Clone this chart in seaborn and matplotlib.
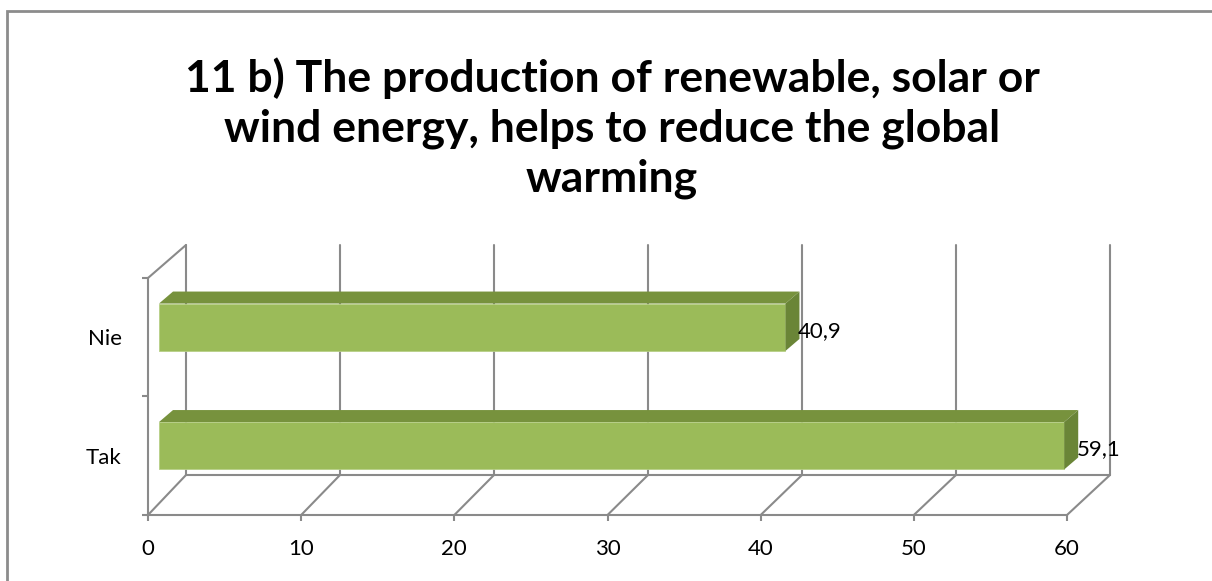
import matplotlib
matplotlib.use('Agg')
import matplotlib.pyplot as plt
from matplotlib.patches import Polygon, Rectangle, ConnectionPatch
import seaborn as sns
import pandas as pd

# Data
categories = ['Nie', 'Tak']
values = [40.9, 59.1]
x_ticks = [0, 10, 20, 30, 40, 50, 60]
title = '11 b) The production of renewable, solar or\nwind energy, helps to reduce the global\nwarming'

df = pd.DataFrame({'answer': categories, 'share': values})

sns.set_style('white')
plt.rcParams['font.family'] = ['Lato', 'DejaVu Sans']
plt.rcParams['text.color'] = 'black'
plt.rcParams['xtick.labelcolor'] = 'black'
plt.rcParams['ytick.labelcolor'] = 'black'

W, H = 1212, 581
fig = plt.figure(figsize=(W / 100, H / 100), dpi=100)
grey = '#8a8a8a'
lw = 1.5


def box(left, top, right, bottom):
    return [left / W, 1 - bottom / H, (right - left) / W, (bottom - top) / H]


# back wall, front plane, bar plane
ax_back = fig.add_axes(box(186, 245, 1110, 475))
ax = fig.add_axes(box(148, 278, 1067, 515))
ax_bar = fig.add_axes(box(159, 268, 1078, 505))

# back wall gridlines
ax_back.set_xlim(0, 60)
ax_back.set_ylim(0, 1)
for t in x_ticks:
    ax_back.axvline(t, color=grey, lw=lw, clip_on=False)
ax_back.set_xticks([])
ax_back.set_yticks([])
sns.despine(ax=ax_back, left=True, bottom=True)

# front axes
ax.set_xlim(0, 60)
ax.set_ylim(1.5, -0.5)
ax.patch.set_alpha(0)
sns.despine(ax=ax)
for s in ['left', 'bottom']:
    ax.spines[s].set_color(grey)
    ax.spines[s].set_linewidth(lw)
ax.set_xticks(x_ticks)
ax.set_xticklabels([str(t) for t in x_ticks], fontsize=16)
ax.set_yticks(range(len(categories)))
ax.set_yticklabels(categories, fontsize=16)
ax.set_yticks([-0.5, 0.5, 1.5], minor=True)
ax.tick_params(axis='x', length=4.5, width=lw, color=grey, pad=13, direction='out', bottom=True)
ax.tick_params(axis='y', which='major', length=0, pad=19, left=False)
ax.tick_params(axis='y', which='minor', length=4.5, width=lw, color=grey, left=True)

# floor and left wall edges
for t in x_ticks:
    fig.add_artist(ConnectionPatch(xyA=(t, 1.5), coordsA=ax.transData,
                                   xyB=(t, 0), coordsB=ax_back.transData,
                                   color=grey, lw=lw))
fig.add_artist(ConnectionPatch(xyA=(0, -0.5), coordsA=ax.transData,
                               xyB=(0, 1), coordsB=ax_back.transData,
                               color=grey, lw=lw))
ax_back.plot([0, 60], [0, 0], color=grey, lw=lw, clip_on=False)

# bars
sns.barplot(data=df, x='share', y='answer', order=categories, orient='h',
            width=0.4, color='#9BBB59', saturation=1, ax=ax_bar,
            edgecolor='#b7cf86', linewidth=0.6)
ax_bar.set_xlim(0, 60)
ax_bar.set_ylim(1.5, -0.5)
ax_bar.axis('off')
ax_bar.patch.set_alpha(0)

ddx = 14 / (919 / 60)
ddy = 12 / (237 / 2)
for p, v in zip(ax_bar.patches, values):
    x0, y0 = p.get_x(), p.get_y()
    w, h = p.get_width(), p.get_height()
    ytop, ybot = y0, y0 + h
    top = Polygon([(x0, ytop), (x0 + w, ytop), (x0 + w + ddx, ytop - ddy), (x0 + ddx, ytop - ddy)],
                  closed=True, facecolor='#77923D', edgecolor='none', clip_on=False)
    side = Polygon([(x0 + w, ytop), (x0 + w, ybot), (x0 + w + ddx, ybot - ddy), (x0 + w + ddx, ytop - ddy)],
                   closed=True, facecolor='#6A8537', edgecolor='none', clip_on=False)
    ax_bar.add_patch(top)
    ax_bar.add_patch(side)
    ax_bar.text(x0 + w + ddx * 0.9, y0 + h / 2 + 0.03, f'{v:.1f}'.replace('.', ','),
                fontsize=16, va='center', ha='left')

# title
fig.text(612 / W, 1 - 128 / H, title, ha='center', va='center', fontsize=32,
         fontweight='bold', linespacing=1.29)

# chart border
fig.add_artist(Rectangle((7 / W, -0.1), 1.2, 1 - 11 / H + 0.1, transform=fig.transFigure,
                         fill=False, edgecolor='#8c8c8c', lw=2))

fig.savefig('out.png', dpi=100)
